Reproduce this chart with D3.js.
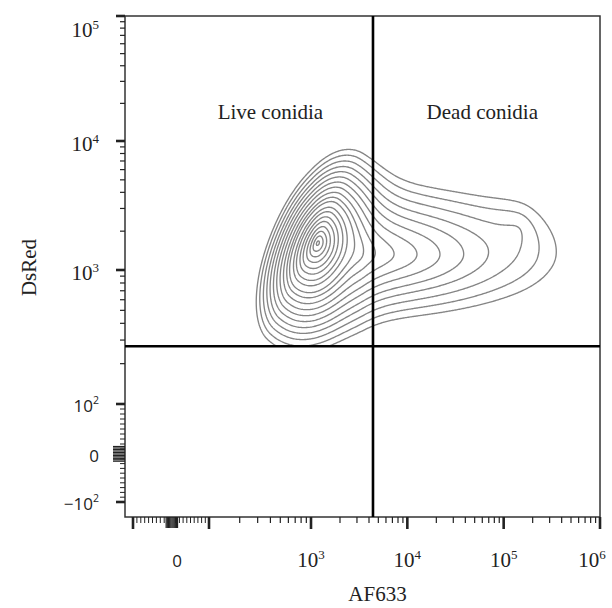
<!DOCTYPE html>
<html><head><meta charset="utf-8">
<script src="https://cdn.jsdelivr.net/npm/d3@7"></script>
<style>body{margin:0;background:#fff} svg{display:block}</style>
</head><body>
<script>
// ---------------- data ----------------
const xLabelValues = [0, 1e3, 1e4, 1e5, 1e6];
const yLabelValues = [-100, 0, 100, 1e3, 1e4, 1e5];
const xMajorTicks = [-100, 100, 1e3, 1e4, 1e5, 1e6];
const yMajorTicks = [-100, 100, 1e3, 1e4, 1e5];
const xTitle = "AF633";
const yTitle = "DsRed";
const gateAF633 = 4400;   // vertical quadrant gate
const gateDsRed = 270;    // horizontal quadrant gate
const quadrantNames = ["Live conidia", "Dead conidia"];
const quadrantAF633 = [400, 6.0e4];
const quadrantDsRed = [1.5e4, 1.5e4];

// cell populations (log10 AF633, log10 DsRed) describing the density
const popName       = ["live core", "dead ridge", "dead far lobe"];
const popLogAF633   = [3.07, 3.55, 5.15];
const popLogDsRed   = [3.21, 3.12, 3.32];
const popAngle      = [56, 0, 0];
const popSpreadFwd  = [0.165, 0.85, 0.20];
const popSpreadBack = [0.19, 0.20, 0.25];
const popSpreadUp   = [0.092, 0.24, 0.20];
const popSpreadDown = [0.14, 0.21, 0.20];
const popCore       = [0.0, 0.5, 0.3];
const popWeight     = [1.0, 0.062, 0.005];
const contourLevels = [0.9, 0.70, 0.55, 0.43, 0.33, 0.26, 0.20, 0.16, 0.12, 0.097,
                       0.076, 0.059, 0.046, 0.036, 0.028, 0.022, 0.017, 0.013, 0.010];

// ---------------- layout ----------------
const W = 612, H = 608;
const L = 125, R = 600, TOP = 16, BOT = 517;
const svg = d3.select("body").append("svg").attr("width", W).attr("height", H);

// biexponential-like display transform: linear within +-100, log beyond
function T(v){ const a = Math.abs(v); return a <= 100 ? v/100 : Math.sign(v)*(1 + Math.log10(a/100)); }
const xs = d3.scaleLinear().domain([-1, 0, 1, 2, 5]).range([133, 172, 209, 311, 600]);
const ys = d3.scaleLinear().domain([-1, 0, 1, 2, 3, 4]).range([502, 454, 404, 270, 141, 16]);
const x = v => xs(T(v));
const y = v => ys(T(v));

// ---------------- density contours ----------------
function density(u, v){
  let s = 0;
  for (let k = 0; k < popWeight.length; k++){
    const du = u - popLogAF633[k], dv = v - popLogDsRed[k];
    const th = popAngle[k]*Math.PI/180, c = Math.cos(th), sn = Math.sin(th);
    const a = du*c + dv*sn, b = -du*sn + dv*c;
    const sa = a >= 0 ? popSpreadFwd[k] : popSpreadBack[k];
    const sb = b >= 0 ? popSpreadUp[k] : popSpreadDown[k];
    const d = Math.hypot(a/sa, b/sb), e = popCore[k];
    s += popWeight[k]*Math.exp(e - Math.sqrt(e*e + d*d));
  }
  return s;
}
const u0 = 1.9, u1 = 6.3, v0 = 1.8, v1 = 4.5, step = 0.01;
const nu = Math.round((u1-u0)/step)+1, nv = Math.round((v1-v0)/step)+1;
const grid = new Float64Array(nu*nv);
for (let j = 0; j < nv; j++) for (let i = 0; i < nu; i++) grid[i + j*nu] = density(u0 + i*step, v0 + j*step);
const contours = d3.contours().size([nu, nv]).thresholds(contourLevels)(grid);
const proj = d3.geoTransform({point(px, py){
  const u = u0 + (px - 0.5)*step, v = v0 + (py - 0.5)*step;
  this.stream.point(x(Math.pow(10, u)), y(Math.pow(10, v)));
}});
const path = d3.geoPath(proj);

svg.append("clipPath").attr("id", "clip").append("rect")
  .attr("x", L).attr("y", TOP).attr("width", R-L).attr("height", y(gateDsRed)-TOP);
svg.append("g").attr("clip-path", "url(#clip)")
  .selectAll("path").data(contours).join("path")
  .attr("d", path).attr("fill", "none").attr("stroke", "#858585").attr("stroke-width", 1.35);

// ---------------- frame & gates ----------------
svg.append("rect").attr("x", L).attr("y", TOP).attr("width", R-L).attr("height", BOT-TOP)
  .attr("fill", "none").attr("stroke", "#333").attr("stroke-width", 1.5);
svg.append("line").attr("x1", x(gateAF633)).attr("x2", x(gateAF633)).attr("y1", TOP).attr("y2", BOT)
  .attr("stroke", "#000").attr("stroke-width", 2.6);
svg.append("line").attr("x1", L).attr("x2", R).attr("y1", y(gateDsRed)).attr("y2", y(gateDsRed))
  .attr("stroke", "#000").attr("stroke-width", 2.6);

// ---------------- ticks ----------------
const decades = [100, 1e3, 1e4, 1e5];
const logMinor = [];
decades.forEach(d => d3.range(2, 10).forEach(m => logMinor.push(d*m)));
const linMinor = d3.range(-90, 100, 10).filter(v => v !== 0);
const zeroBlock = d3.range(-15, 16, 3);

const tx = svg.append("g").attr("stroke", "#222");
const addX = (vals, len, w) => tx.selectAll(null).data(vals).join("line")
  .attr("x1", d => x(d)).attr("x2", d => x(d)).attr("y1", BOT).attr("y2", BOT+len).attr("stroke-width", w);
addX(linMinor, 6, 1); addX(logMinor.filter(v => v < 1e6), 6, 1.2); addX(zeroBlock, 11, 1.2); addX(xMajorTicks, 12, 2.6);

const ty = svg.append("g").attr("stroke", "#222");
const addY = (vals, len, w) => ty.selectAll(null).data(vals).join("line")
  .attr("y1", d => y(d)).attr("y2", d => y(d)).attr("x1", L).attr("x2", L-len).attr("stroke-width", w);
addY(linMinor, 5, 1); addY(logMinor.filter(v => v < 1e5), 5, 1.2); addY(zeroBlock, 12, 1.2); addY(yMajorTicks, 9, 2.6);

// ---------------- labels ----------------
const serif = "'Liberation Serif', 'DejaVu Serif', serif";
const sans = "'Open Sans', 'Liberation Sans', sans-serif";
function powLabel(sel, v){
  if (v === 0) { sel.text("0"); return; }
  const e = Math.round(Math.log10(Math.abs(v)));
  sel.append("tspan").text((v < 0 ? "\u221210" : "10"));
  sel.append("tspan").attr("dy", -8).attr("font-size", "0.62em").text(e);
}
xLabelValues.forEach(v => {
  const t = svg.append("text").attr("x", Math.min(x(v), 592) + (v === 0 ? 5 : 0)).attr("y", 567)
    .attr("text-anchor", "middle").attr("fill", "#222")
    .attr("font-family", v === 0 ? sans : serif).attr("font-size", v === 0 ? 17 : 21);
  powLabel(t, v);
});
yLabelValues.forEach(v => {
  const big = Math.abs(v) >= 1e3;
  const t = svg.append("text").attr("x", 99).attr("y", big ? Math.max(y(v), 27) + 10 : y(v) + 8)
    .attr("text-anchor", "end").attr("fill", "#222")
    .attr("font-family", big ? serif : sans).attr("font-size", big ? 21 : 17);
  powLabel(t, v);
});
svg.append("text").attr("x", (L+R)/2 + 15).attr("y", 601).attr("text-anchor", "middle")
  .attr("font-family", serif).attr("font-size", 21).attr("fill", "#222").text(xTitle);
svg.append("text").attr("transform", `translate(36,${(TOP+BOT)/2 + 1}) rotate(-90)`).attr("text-anchor", "middle")
  .attr("font-family", serif).attr("font-size", 21).attr("fill", "#222").text(yTitle);
quadrantNames.forEach((n, i) => svg.append("text").attr("x", x(quadrantAF633[i])).attr("y", y(quadrantDsRed[i]))
  .attr("text-anchor", "middle").attr("font-family", serif).attr("font-size", 21).attr("fill", "#222").text(n));
</script>
</body></html>
